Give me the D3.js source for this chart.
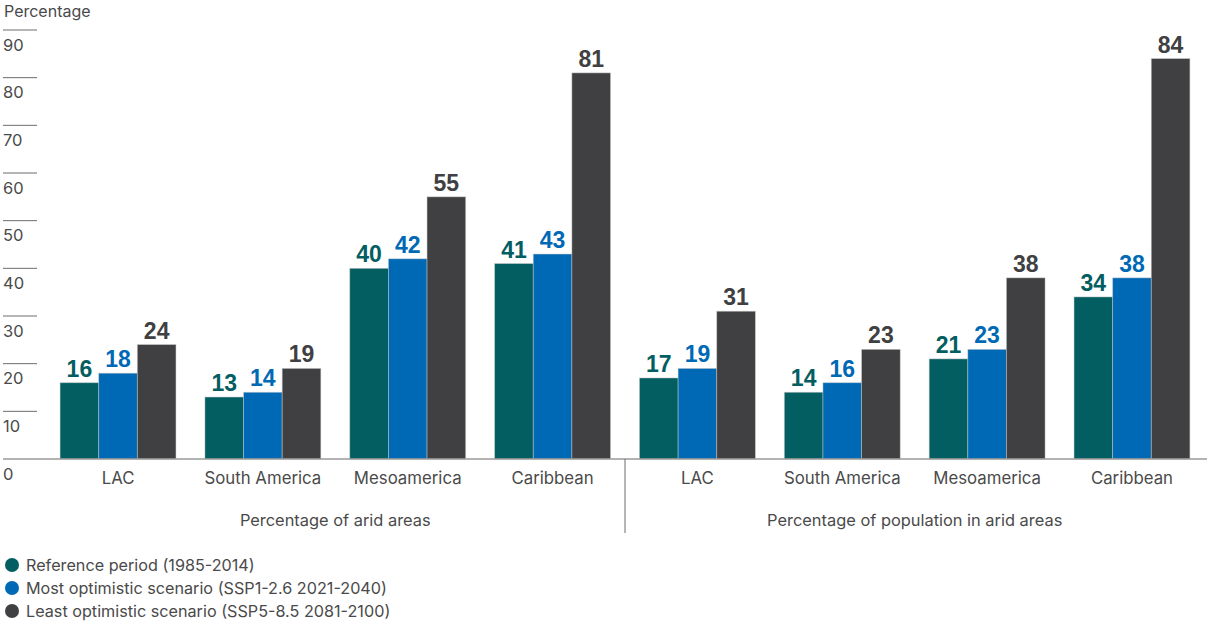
<!DOCTYPE html>
<html>
<head>
<meta charset="utf-8">
<script src="https://cdn.jsdelivr.net/npm/d3@7"></script>
<style>
  html, body { margin: 0; padding: 0; background: #fff; }
  svg { display: block; }
  .lbl { font-family: Inter, "Noto Sans", sans-serif; fill: #4a4a4a; }
  .val { font-family: "Liberation Sans", Arial, sans-serif; font-weight: 700; }
</style>
</head>
<body>
<svg id="chart" width="1207" height="621"></svg>
<script>
// Regions shown in each panel
const regions = ["LAC", "South America", "Mesoamerica", "Caribbean"];
// Panel titles
const panels = ["Percentage of arid areas", "Percentage of population in arid areas"];
// Series values, panel 1 then panel 2
const referenceValues  = [16, 13, 40, 41, 17, 14, 21, 34];
const optimisticValues = [18, 14, 42, 43, 19, 16, 23, 38];
const pessimisticValues = [24, 19, 55, 81, 31, 23, 38, 84];
// Series names for the legend
const seriesNames = [
  "Reference period (1985-2014)",
  "Most optimistic scenario (SSP1-2.6 2021-2040)",
  "Least optimistic scenario (SSP5-8.5 2081-2100)"
];
const seriesColors = ["#035e61", "#0069b5", "#404042"];
const yTicks = [0, 10, 20, 30, 40, 50, 60, 70, 80, 90];

const W = 1207, H = 621;
const svg = d3.select("#chart");

const seriesValues = [referenceValues, optimisticValues, pessimisticValues];
const groupKeys = d3.range(panels.length * regions.length);
const rows = groupKeys.map(i => ({
  key: i,
  region: regions[i % regions.length],
  values: seriesValues.map((arr, s) => ({ s, v: arr[i] }))
}));

const baseY = 459;
const y = d3.scaleLinear().domain([0, 90]).range([baseY, 30]);
const x0 = d3.scaleBand().domain(groupKeys).range([45.6, 1204.4])
  .paddingInner(0.2).paddingOuter(0.1);
const x1 = d3.scaleBand().domain(d3.range(seriesNames.length)).range([0, x0.bandwidth()]);

// Y axis label
svg.append("text").attr("class", "lbl").attr("x", 4).attr("y", 17)
  .attr("font-size", 16).text("Percentage");

// Short tick rules with their labels underneath
const tickG = svg.append("g");
tickG.selectAll("line").data(yTicks.filter(d => d > 0)).join("line")
  .attr("x1", 3).attr("x2", 37)
  .attr("y1", d => y(d)).attr("y2", d => y(d))
  .attr("stroke", "#6d6d6d").attr("stroke-width", 1);
tickG.selectAll("text").data(yTicks).join("text")
  .attr("class", "lbl").attr("x", 3).attr("y", d => y(d) + 20.5)
  .attr("font-size", 16.5).text(d => d);

// Bars
const groups = svg.append("g").selectAll("g").data(rows).join("g")
  .attr("transform", d => `translate(${x0(d.key)},0)`);
groups.selectAll("rect").data(d => d.values).join("rect")
  .attr("x", d => x1(d.s)).attr("width", x1.bandwidth())
  .attr("y", d => y(d.v)).attr("height", d => baseY - y(d.v))
  .attr("fill", d => seriesColors[d.s])
  .attr("stroke", "rgba(200,200,200,0.6)").attr("stroke-width", 0.8);
groups.selectAll("text").data(d => d.values).join("text")
  .attr("class", "val")
  .attr("x", d => x1(d.s) + x1.bandwidth() / 2)
  .attr("y", d => y(d.v) - 6)
  .attr("text-anchor", "middle").attr("font-size", 23)
  .attr("fill", d => seriesColors[d.s])
  .text(d => d.v);

// Baseline
svg.append("line").attr("x1", 3).attr("x2", W)
  .attr("y1", baseY).attr("y2", baseY)
  .attr("stroke", "#9a9a9a").attr("stroke-width", 1.6);

// Region labels
svg.append("g").selectAll("text").data(rows).join("text")
  .attr("class", "lbl")
  .attr("x", d => x0(d.key) + x0.bandwidth() / 2).attr("y", 484)
  .attr("text-anchor", "middle").attr("font-size", 16.8)
  .text(d => d.region);

// Panel titles and divider
const perPanel = regions.length;
svg.append("g").selectAll("text").data(panels).join("text")
  .attr("class", "lbl")
  .attr("x", (d, i) => {
    const a = x0(i * perPanel), b = x0(i * perPanel + perPanel - 1) + x0.bandwidth();
    return (a + b) / 2;
  })
  .attr("y", 526).attr("text-anchor", "middle").attr("font-size", 16.4)
  .text(d => d);
const divX = (x0(perPanel - 1) + x0.bandwidth() + x0(perPanel)) / 2;
svg.append("line").attr("x1", divX).attr("x2", divX)
  .attr("y1", baseY).attr("y2", 533)
  .attr("stroke", "#6d6d6d").attr("stroke-width", 1);

// Legend
const leg = svg.append("g").selectAll("g").data(seriesNames).join("g")
  .attr("transform", (d, i) => `translate(0,${565 + i * 23})`);
leg.append("circle").attr("cx", 12).attr("cy", 0).attr("r", 7)
  .attr("fill", (d, i) => seriesColors[i]);
leg.append("text").attr("class", "lbl").attr("x", 26).attr("y", 5.5)
  .attr("font-size", 16.2).text(d => d);
</script>
</body>
</html>
